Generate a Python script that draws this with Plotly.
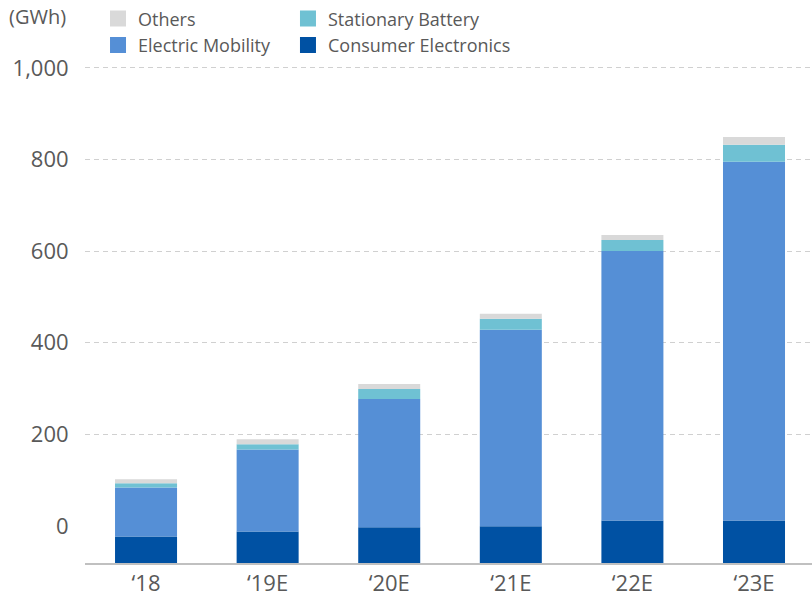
import plotly.graph_objects as go

# ---- data (GWh) ----
years = ["\u201818", "\u201819E", "\u201820E", "\u201821E", "\u201822E", "\u201823E"]
consumer_electronics = [58, 69, 78, 80, 93, 93]
electric_mobility = [107, 179, 280, 429, 588, 783]
stationary_battery = [9, 11, 22, 24, 24, 37]
others = [9, 11, 11, 11, 11, 17]

y_ticks = [0, 200, 400, 600, 800, 1000]
y_tick_text = ["0", "200", "400", "600", "800", "1,000"]
unit_label = "(GWh)"

# the original chart's bars start below the "0" label
AXIS_FLOOR = -81

C_CE = "#0051a3"
C_EM = "#558fd6"
C_SB = "#6fc1d3"
C_OT = "#d9d9d9"
TXT = "#595959"
FONT = "Open Sans"

series = [
    ("Consumer Electronics", consumer_electronics, C_CE),
    ("Electric Mobility", electric_mobility, C_EM),
    ("Stationary Battery", stationary_battery, C_SB),
    ("Others", others, C_OT),
]

fig = go.Figure()
base = [AXIS_FLOOR] * len(years)
for name, vals, col in series:
    fig.add_trace(go.Bar(
        x=years, y=vals, base=list(base), name=name,
        marker=dict(color=col, line=dict(width=0)),
        width=0.51, showlegend=False,
    ))
    base = [b + v for b, v in zip(base, vals)]

# legend entries (two columns)
legend_layout = [
    ("Others", C_OT, "legend"),
    ("Electric Mobility", C_EM, "legend"),
    ("Stationary Battery", C_SB, "legend2"),
    ("Consumer Electronics", C_CE, "legend2"),
]
for name, col, lg in legend_layout:
    fig.add_trace(go.Scatter(
        x=[None], y=[None], mode="markers", name=name,
        marker=dict(symbol="square", size=17, color=col),
        legend=lg, showlegend=True,
    ))

legend_common = dict(
    orientation="v", xanchor="left", yanchor="top",
    font=dict(family=FONT, size=18, color=TXT),
    bgcolor="rgba(0,0,0,0)", borderwidth=0, itemsizing="trace",
    tracegroupgap=0,
)

fig.update_layout(
    width=812, height=597,
    margin=dict(l=85, r=0, t=66, b=34, pad=0),
    paper_bgcolor="white", plot_bgcolor="white",
    barmode="overlay",
    font=dict(family=FONT, color=TXT),
    legend=dict(x=0.0179, y=1.132, **legend_common),
    legend2=dict(x=0.2792, y=1.132, **legend_common),
    xaxis=dict(
        range=[-0.502, 5.477], showgrid=False, zeroline=False,
        showline=True, linecolor="#c0c0c0", linewidth=2,
        ticks="", tickfont=dict(family=FONT, size=22, color=TXT),
        tickangle=0, fixedrange=True,
    ),
    yaxis=dict(
        range=[AXIS_FLOOR, 1004], tickvals=y_ticks, ticktext=y_tick_text,
        showgrid=True, gridcolor="#d0d0d0", griddash="5px,4px", gridwidth=1,
        zeroline=True, zerolinecolor="rgba(0,0,0,0)", zerolinewidth=1,
        showline=False, ticks="outside", ticklen=11, tickcolor="rgba(0,0,0,0)",
        tickfont=dict(family=FONT, size=22, color=TXT),
        fixedrange=True,
    ),
    annotations=[dict(
        text=unit_label, xref="paper", yref="paper", x=-0.1073, y=1.0986,
        xanchor="left", yanchor="middle", showarrow=False,
        font=dict(family=FONT, size=20, color=TXT),
    )],
)

# remove the browser's default 8px page margin so the figure fills the window
fig.write_html(
    "out.html",
    config={"displayModeBar": False, "staticPlot": True},
    post_script="document.body.style.margin='0';document.body.style.overflow='hidden';",
)
